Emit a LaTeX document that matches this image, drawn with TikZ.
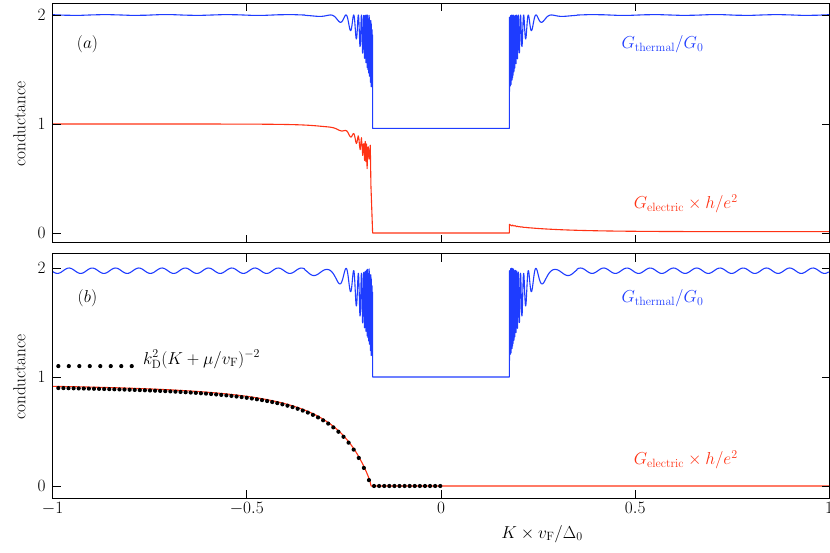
\documentclass[tikz,border=0pt]{standalone}
\usepackage{amsmath}
\definecolor{gblue}{RGB}{30,60,255}
\definecolor{gred}{RGB}{255,50,20}
\begin{document}
\begin{tikzpicture}[
  curveB/.style={gblue,line width=1.1pt,line join=round},
  curveR/.style={gred,line width=1.1pt,line join=round},
  frame/.style={line width=0.8pt},
  lab/.style={font=\LARGE,inner sep=1pt},
  declare function={
    amp(\u)=0.75*exp(-(\u-0.175)/0.035);
    chirp(\u)=(1-cos(deg(1.5/(\u-0.165))))/2;
    tha(\u)=2-amp(\u)*chirp(\u);
    ripb(\u)=1.975+0.025*cos(deg(105*\u));
    thb(\u)=ripb(\u)-0.9*exp(-(\u-0.175)/0.04)*chirp(\u);
    ela(\u)=1-0.006*exp(-(\u-0.3)/0.1)-0.2*exp(-(\u-0.175)/0.05)-0.45*exp(-(\u-0.175)/0.025)*chirp(\u);
    elar(\u)=0.055*exp(-(\u-0.175)/0.12)+0.012+0.02*exp(-(\u-0.175)/0.015)*chirp(\u);
    elb(\u)=0.945*(1-(0.18/\u)^2)+0.02*exp(-(\u-0.18)/0.03);
  }]
\useasboundingbox (0,-553pt) rectangle (830pt,0);
% ---------------- panel a
\begin{scope}[shift={(441pt,-233pt)},x=388.5pt,y=109pt]
  \coordinate (a1) at (-1,-0.09); \coordinate (a2) at (1,2.11);
  \draw[curveB] plot[domain=-1:-0.35,samples=20] (\x,{2-0.004*cos(deg(40*\x))})
    -- plot[domain=-0.35:-0.176,samples=500] (\x,{tha(-\x)}) -- (-0.176,0.96) -- (0.176,0.96)
    -- plot[domain=0.176:0.35,samples=500] (\x,{tha(\x)})
    -- plot[domain=0.35:1,samples=20] (\x,{2-0.004*cos(deg(40*\x))});
  \draw[curveR] plot[domain=-1:-0.179,samples=500] (\x,{ela(-\x)}) -- (-0.176,0) -- (0.176,0)
    -- plot[domain=0.176:1,samples=400] (\x,{elar(\x)});
  \draw[frame] (a1) rectangle (a2);
  \foreach \t in {-1,-0.5,0,0.5,1} {\draw[frame] (\t,-0.09) -- ++(0,8pt); \draw[frame] (\t,2.11) -- ++(0,-8pt);}
  \foreach \t in {0,1,2} {\draw[frame] (-1,\t) -- ++(8pt,0); \draw[frame] (1,\t) -- ++(-8pt,0);
    \node[lab,anchor=east] (ya\t) at (-1.015,\t) {$\t$};}
  \node[lab] (pa) at (-0.91,1.73) {$(a)$};
  \node[lab,gblue] (ta) at (0.57,1.73) {$G_{\mathrm{thermal}}/G_0$};
  \node[lab,gred] (ea) at (0.63,0.27) {$G_{\mathrm{electric}}\times h/e^2$};
  \node[lab,rotate=90] (yla) at (-1.085,1) {conductance};
\end{scope}
% ---------------- panel b
\begin{scope}[shift={(441pt,-486pt)},x=388.5pt,y=109pt]
  \coordinate (b1) at (-1,-0.11); \coordinate (b2) at (1,2.13);
  \draw[curveB] plot[domain=-1:-0.35,samples=150] (\x,{ripb(-\x)})
    -- plot[domain=-0.35:-0.176,samples=500] (\x,{thb(-\x)}) -- (-0.176,1) -- (0.176,1)
    -- plot[domain=0.176:0.35,samples=500] (\x,{thb(\x)})
    -- plot[domain=0.35:1,samples=150] (\x,{ripb(\x)});
  \draw[curveR] plot[domain=-1:-0.181,samples=300] (\x,{elb(-\x)}) -- (-0.18,0) -- (1,0);
  \foreach \k in {0,...,75} {\pgfmathsetmacro\xx{-0.985+\k*0.0131}
    \pgfmathsetmacro\yy{0.93*max(0,1-(0.18/\xx)^2)*(\xx<-0.18)}
    \fill (\xx,\yy) circle (2.1pt);}
  \foreach \k in {0,...,7} {\fill (-0.985+\k*0.027,1.10) circle (2.1pt);}
  \node[lab,anchor=west] (leg) at (-0.77,1.16) {$k_{\mathrm{D}}^2(K+\mu/v_{\mathrm{F}})^{-2}$};
  \draw[frame] (b1) rectangle (b2);
  \foreach \t in {-1,-0.5,0,0.5,1} {\draw[frame] (\t,-0.11) -- ++(0,8pt); \draw[frame] (\t,2.13) -- ++(0,-8pt);}
  \foreach \t in {0,1,2} {\draw[frame] (-1,\t) -- ++(8pt,0); \draw[frame] (1,\t) -- ++(-8pt,0);
    \node[lab,anchor=east] (yb\t) at (-1.015,\t) {$\t$};}
  \node[lab] (pb) at (-0.91,1.72) {$(b)$};
  \node[lab,gblue] (tb) at (0.57,1.72) {$G_{\mathrm{thermal}}/G_0$};
  \node[lab,gred] (eb) at (0.63,0.24) {$G_{\mathrm{electric}}\times h/e^2$};
  \node[lab,rotate=90] (ylb) at (-1.085,1) {conductance};
  \node[lab,anchor=north] (x1) at (-1,-0.14) {$-1$};
  \node[lab,anchor=north] (x2) at (-0.5,-0.14) {$-0.5$};
  \node[lab,anchor=north] (x3) at (0,-0.14) {$0$};
  \node[lab,anchor=north] (x4) at (0.5,-0.14) {$0.5$};
  \node[lab,anchor=north east] (x5) at (1.012,-0.14) {$1$};
  \node[lab] (xl) at (0.26,-0.44) {$K\times v_{\mathrm{F}}/\Delta_0$};
\end{scope}
\end{tikzpicture}
\end{document}
